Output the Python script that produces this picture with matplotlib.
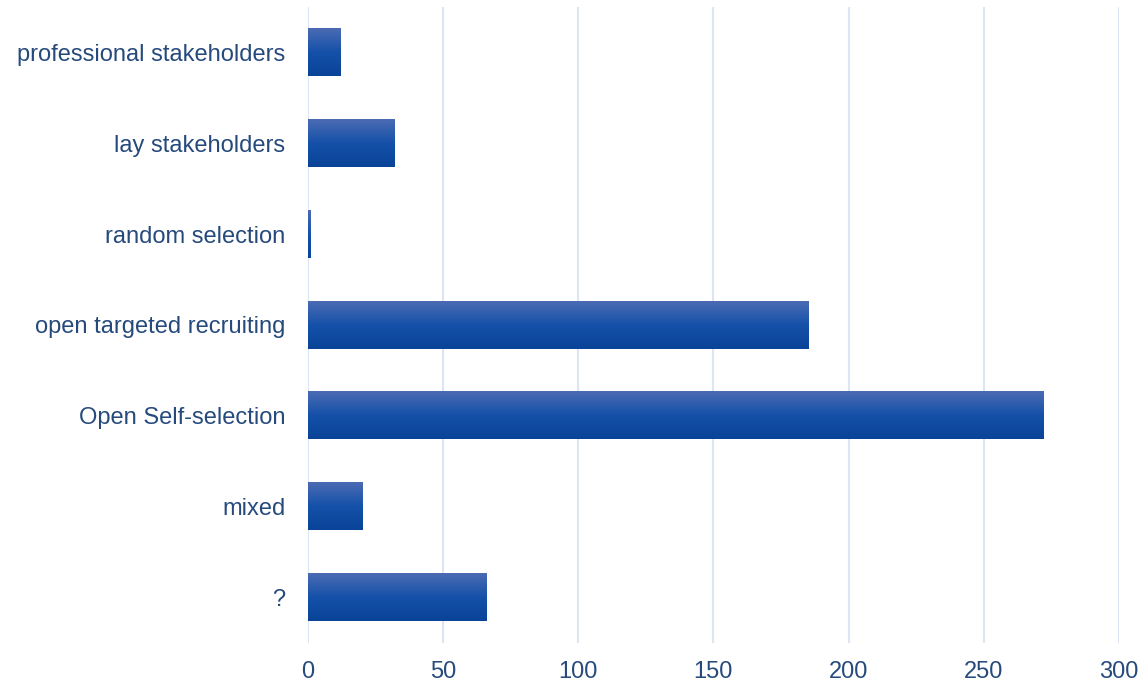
import matplotlib
matplotlib.use("Agg")
import matplotlib.pyplot as plt
import numpy as np
from matplotlib.colors import LinearSegmentedColormap

plt.rcParams['font.family'] = ['Liberation Sans', 'DejaVu Sans']

# Datos
categorias = ['professional stakeholders', 'lay stakeholders', 'random selection',
              'open targeted recruiting', 'Open Self-selection', 'mixed', '?']
valores = [12, 32, 1, 185, 272, 20, 66]
ticks_x = [0, 50, 100, 150, 200, 250, 300]

color_texto = '#264a7c'
color_grid = '#dbe5f3'

# Degradado de las barras (arriba claro, abajo oscuro)
cmap = LinearSegmentedColormap.from_list('barra', ['#4b6bb3', '#1551a9', '#0a4498'])
grad = np.linspace(0, 1, 64).reshape(-1, 1)

fig = plt.figure(figsize=(11.4, 6.84), dpi=100)
ax = fig.add_axes([307.5 / 1140, 41 / 684, 811.5 / 1140, 636 / 684])

alto = 0.52
for i, v in enumerate(valores):
    ax.imshow(grad, cmap=cmap, aspect='auto', interpolation='bilinear',
              extent=[0, v, i + alto / 2, i - alto / 2], zorder=3)

ax.set_xlim(0, 300)
ax.set_ylim(len(categorias) - 0.5, -0.5)
ax.set_xticks(ticks_x)
ax.set_yticks(range(len(categorias)))
ax.set_yticklabels(categorias)

for x in ticks_x:
    ax.axvline(x, color=color_grid, lw=1.5, zorder=1)

for s in ax.spines.values():
    s.set_visible(False)
ax.tick_params(length=0, labelsize=17, colors=color_texto)
ax.tick_params(axis='y', pad=16)
ax.tick_params(axis='x', pad=13)

fig.savefig('out.png', dpi=100)
